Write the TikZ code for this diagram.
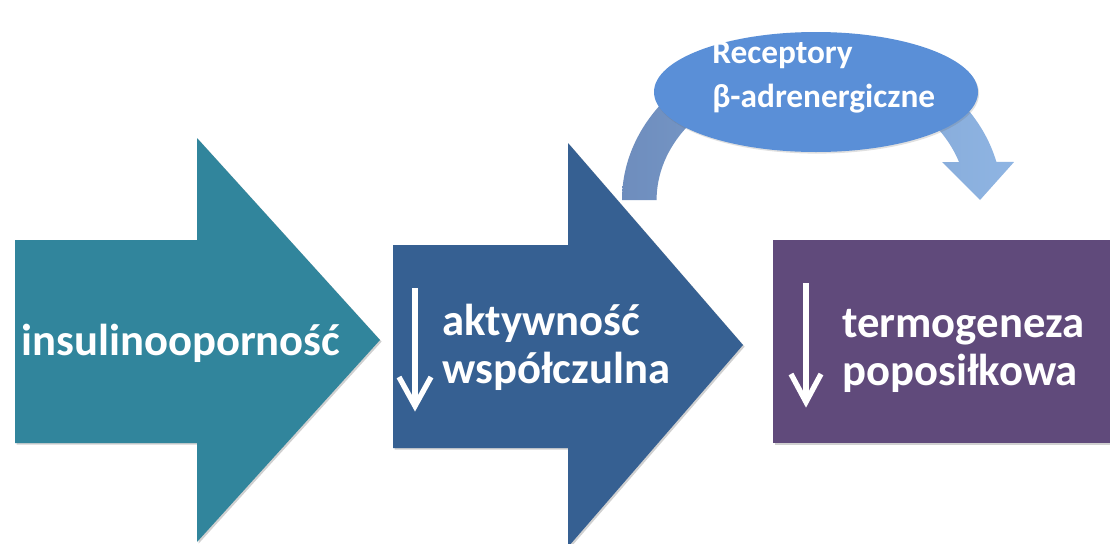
\documentclass[tikz,border=0pt]{standalone}
\usepackage{fontspec}
\setmainfont{Carlito}
\usetikzlibrary{shapes.geometric,shadows}
\definecolor{tealA}{HTML}{31859C}
\definecolor{blueA}{HTML}{366092}
\definecolor{purpA}{HTML}{604A7B}
\definecolor{ellA}{HTML}{5A8FD7}
\definecolor{arcL}{HTML}{6E8DBD}
\definecolor{arcR}{HTML}{8FB5E3}
\begin{document}
\begin{tikzpicture}[x=0.75pt,y=-0.75pt,
  big/.style={text=white,font=\bfseries\fontsize{33.5}{40}\selectfont,inner sep=0pt,anchor=base west},
  small/.style={text=white,font=\bfseries\fontsize{25}{30}\selectfont,inner sep=0pt,anchor=base west},
  shad/.style={drop shadow={shadow xshift=1.2pt,shadow yshift=-1.2pt,opacity=0.3,fill=black!60}},
  downline/.style={draw=white,line width=4pt},
  chevron/.style={draw=white,line width=4pt,line join=miter}]
\useasboundingbox (0,0) rectangle (1110,543);
\clip (0,0) rectangle (1110,543);
\fill[white] (0,0) rectangle (1110,543);

% block arrow 1
\fill[tealA,shad] (15,240) -- (197,240) -- (197,138) -- (380,340) -- (197,542) -- (197,443) -- (15,443) -- cycle;
% block arrow 2
\fill[blueA,shad] (393,245) -- (568,245) -- (568,143) -- (743,345) -- (568,547) -- (568,448) -- (393,448) -- cycle;
% box
\node[fill=purpA,shad,minimum width=260.25pt,minimum height=152.25pt,inner sep=0pt] (box) at (946.5,341.5) {};

% curved arrow
\shade[left color=arcL,right color=arcR]
  (622,200) arc[start angle=180,end angle=346,x radius=190,y radius=158]
  -- (1014,162) -- (980,200) -- (942,162) -- (959,162)
  arc[start angle=342,end angle=180,x radius=155,y radius=123] -- cycle;

% ellipse
\node[ellipse,fill=ellA,minimum width=243pt,minimum height=90pt,inner sep=0pt,
  drop shadow={shadow xshift=0.8pt,shadow yshift=-1.2pt,opacity=0.2,fill=black!60}] (ell) at (816,92) {};
\node[small] (rec1) at (712,63) {Receptory};
\node[small] (rec2) at (712,107) {β-adrenergiczne};

% texts
\node[big] (ins) at (21,355) {insulinooporność};
\node[big] (akt1) at (442,335) {aktywność};
\node[big] (akt2) at (442,383) {współczulna};
\node[big] (ter1) at (842,337) {termogeneza};
\node[big] (ter2) at (842,385) {poposiłkowa};

% down arrows
\coordinate (d1top) at (415,288);
\coordinate (d1tip) at (415,406);
\coordinate (d1l) at (399,377);
\coordinate (d1r) at (431,377);
\draw[downline] (d1top) -- (d1tip);
\draw[chevron] (d1l) -- (d1tip) -- (d1r);
\coordinate (d2top) at (806,283);
\coordinate (d2tip) at (806,402);
\coordinate (d2l) at (791,374);
\coordinate (d2r) at (821,374);
\draw[downline] (d2top) -- (d2tip);
\draw[chevron] (d2l) -- (d2tip) -- (d2r);
\end{tikzpicture}
\end{document}
